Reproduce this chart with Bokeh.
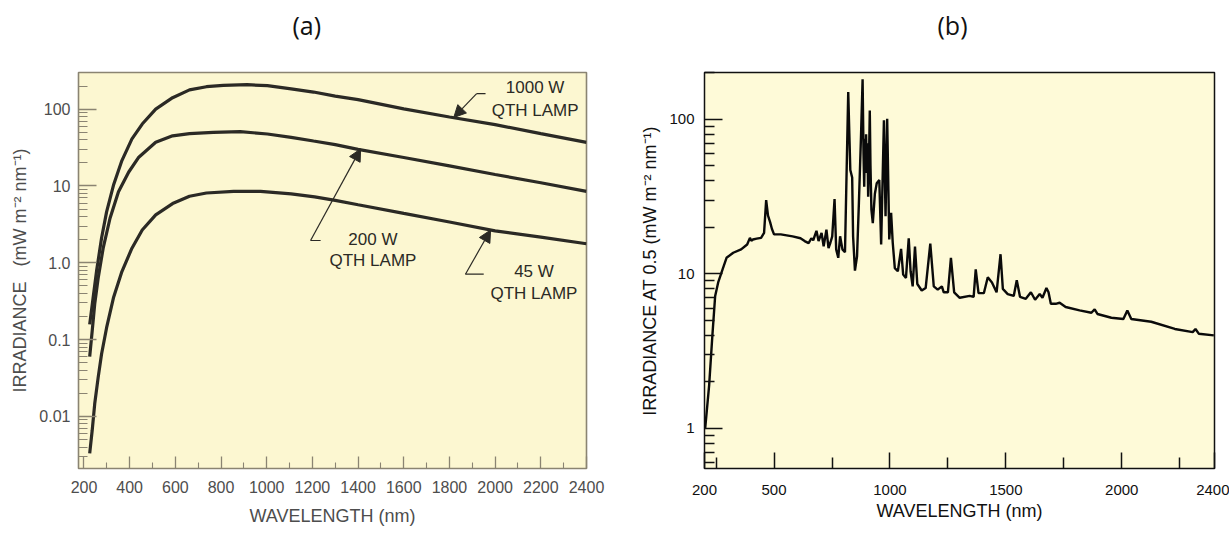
from bokeh.plotting import figure
from bokeh.layouts import row
from bokeh.models import FixedTicker, Arrow, NormalHead, Label, Range1d, Title
from bokeh.embed import file_html
from bokeh.resources import INLINE

FONT = "Liberation Sans"

# ---------------- Panel (a): QTH lamps ----------------
wl_1000 = [225, 240, 255, 277, 299, 329, 366, 410, 455, 514, 588, 662, 736, 810, 914, 1003, 1107, 1205, 1300, 1400, 1600, 1800, 2000, 2200, 2400]
irr_1000 = [0.158, 0.35, 0.78, 2.1, 4.6, 10.2, 21.4, 41, 64, 100, 141, 178, 196, 204, 208, 202, 184, 167, 148, 133, 101, 79, 63, 48, 37]
wl_200 = [225, 236, 247, 262, 284, 314, 351, 396, 440, 514, 588, 662, 766, 884, 1003, 1107, 1205, 1300, 1400, 1600, 1800, 2000, 2200, 2400]
irr_200 = [0.06, 0.13, 0.29, 0.63, 1.55, 3.8, 8.4, 15.2, 23.7, 37, 45, 48, 50, 51, 47.5, 43, 38.5, 34.6, 30, 23.5, 18.3, 14.1, 11, 8.5]
wl_45 = [225, 236, 247, 262, 277, 299, 329, 366, 410, 455, 514, 588, 662, 736, 855, 973, 1107, 1210, 1300, 1400, 1600, 1800, 2000, 2200, 2400]
irr_45 = [0.0033, 0.0066, 0.0146, 0.032, 0.065, 0.143, 0.35, 0.77, 1.55, 2.67, 4.2, 5.9, 7.35, 8.1, 8.5, 8.5, 7.9, 7.2, 6.5, 5.7, 4.4, 3.4, 2.6, 2.16, 1.77]

xa_ticks = [200, 400, 600, 800, 1000, 1200, 1400, 1600, 1800, 2000, 2200, 2400]
xa_minor = [300, 500, 700, 900, 1100, 1300, 1500, 1700, 1900, 2100, 2300]
ya_ticks = [0.01, 0.1, 1, 10, 100]
ya_tick_labels = ["0.01", "0.1", "1.0", "10", "100"]
ya_decades = [0.001, 0.01, 0.1, 1, 10, 100]
minor_mult = [2, 3, 4, 5, 6, 7, 8, 9]

lamp_text = ["1000 W", "QTH LAMP", "200 W", "QTH LAMP", "45 W", "QTH LAMP"]
lamp_text_x = [2175, 2175, 1465, 1465, 2170, 2170]
lamp_text_y = [190, 95, 2.0, 1.08, 0.76, 0.40]
arrow_tail_x = [1919, 1192, 1870]
arrow_tail_y = [159, 1.95, 0.71]
arrow_tip_x = [1819, 1411, 1980]
arrow_tip_y = [78, 30.4, 2.67]
stub_end_x = [1958, 1236, 1950]

# ---------------- Panel (b): Xe arc lamp spectrum ----------------
wl_b = [203, 220, 234, 246, 259, 278, 295, 324, 358, 384, 396, 402, 409, 425, 444, 457, 466, 474, 483, 491, 500, 529,
        580, 614, 632, 649, 661, 669, 683, 692, 705, 714, 726, 735, 743, 751, 761, 768, 777, 785, 795, 806,
        820, 829, 837, 841, 849, 858, 866, 875, 882, 886, 889, 892, 895, 897, 900, 903, 906, 910, 913, 916, 920, 926, 935, 943, 954, 962, 974,
        981, 988, 997, 1005, 1012, 1021, 1034, 1048, 1057, 1069, 1081, 1089, 1098, 1108, 1118, 1137, 1154, 1174, 1189, 1206,
        1224, 1232, 1250, 1263, 1277, 1301, 1344, 1361, 1370, 1382, 1405, 1422, 1440, 1460, 1477, 1487, 1508, 1534, 1547, 1561,
        1586, 1608, 1626, 1646, 1658, 1675, 1684, 1694, 1715, 1732, 1758, 1818, 1869, 1883, 1895, 1955, 2007, 2024, 2041, 2127,
        2229, 2306, 2318, 2332, 2397]
irr_b = [1.0, 1.9, 4.0, 7.2, 8.8, 10.7, 12.7, 13.7, 14.4, 15.5, 17.1, 16.4, 16.7, 16.9, 17.1, 18.4, 30, 23.8, 21.6, 19.5, 18.0, 18,
         17.5, 17, 16.3, 15.8, 17, 16.5, 19, 16.3, 18.4, 15.1, 19.3, 14.7, 15.9, 17.5, 30.5, 14.4, 12.7, 17.5, 14.4, 13.8,
         150, 47, 42, 17.5, 10.5, 13, 28.7, 77, 182, 60, 36.7, 75, 45, 80, 50, 70, 31.6, 60, 114, 50, 26, 21.3, 33, 38.6, 40.5, 15.5, 98.5,
         23.6, 101, 16.7, 24.8, 15.9, 10.9, 10.4, 14.5, 9.9, 9.4, 17, 10.4, 8.3, 15, 8.6, 7.8, 8.1, 15.7, 8.3, 7.9,
         8.3, 7.6, 7.6, 12.7, 7.6, 7.0, 7.2, 7.1, 10.7, 7.5, 7.5, 9.5, 8.8, 7.6, 13.4, 8, 7.4, 7.2, 9.1, 7.1,
         6.9, 7.6, 6.8, 7.4, 7.0, 8.1, 7.6, 6.4, 6.4, 6.5, 6.1, 5.8, 5.6, 5.9, 5.5, 5.2, 5.1, 5.8, 5.1, 4.9,
         4.4, 4.2, 4.4, 4.1, 4.0]

xb_ticks = [200, 500, 1000, 1500, 2000, 2400]
xb_minor = [250, 750, 1250, 1750, 2250]
yb_ticks = [1, 10, 100]
yb_tick_labels = ["1", "10", "100"]
yb_decades = [0.1, 1, 10, 100]

# ---------------- colours ----------------
A_BG = "#fcf7d1"
A_FRAME = "#8a8472"
A_CURVE = "#2b2a25"
A_TEXT = "#4d4d4d"
B_BG = "#fefad8"


def style_title(p, text, offset):
    p.title.text = text
    p.title.align = "left"
    p.title.offset = offset
    p.title.text_font = "Open Sans"
    p.title.text_font_size = "25px"
    p.title.text_font_style = "normal"
    p.title.text_color = "#111111"
    if "standoff" in p.title.properties():
        p.title.standoff = 10
    spacer = Title(text="\u00a0", text_font_size="2px")
    if "standoff" in spacer.properties():
        spacer.standoff = 22
    p.add_layout(spacer, "above")


# ================= Figure (a) =================
pa = figure(width=615, height=533, x_range=Range1d(176, 2400), y_range=Range1d(0.0021, 300),
            y_axis_type="log", output_backend="svg", toolbar_location=None,
            min_border_left=78, min_border_right=29, min_border_top=72, min_border_bottom=64)
pa.background_fill_color = A_BG
pa.border_fill_color = "white"
pa.outline_line_color = A_FRAME
pa.outline_line_width = 1.6
pa.grid.visible = False
style_title(pa, "(a)", 214)

for wl, irr in [(wl_1000, irr_1000), (wl_200, irr_200), (wl_45, irr_45)]:
    pa.line(wl, irr, line_color=A_CURVE, line_width=3.2)

ya_minor = [d * m for d in ya_decades for m in minor_mult if 0.0021 <= d * m <= 300]
pa.xaxis.ticker = FixedTicker(ticks=xa_ticks, minor_ticks=xa_minor)
pa.yaxis.ticker = FixedTicker(ticks=ya_ticks, minor_ticks=ya_minor)
pa.yaxis.major_label_overrides = dict(zip(ya_ticks, ya_tick_labels))
for ax in (pa.xaxis[0], pa.yaxis[0]):
    ax.axis_line_color = None
    ax.major_tick_line_color = A_FRAME
    ax.minor_tick_line_color = A_FRAME
    ax.major_tick_line_width = 1.3
    ax.minor_tick_line_width = 1.1
    ax.major_tick_out = 0
    ax.minor_tick_out = 0
    ax.major_label_text_font = FONT
    ax.major_label_text_font_size = "16px"
    ax.major_label_text_color = A_TEXT
    ax.axis_label_text_font = FONT
    ax.axis_label_text_font_size = "18px"
    ax.axis_label_text_font_style = "normal"
    ax.axis_label_text_color = A_TEXT
pa.xaxis.major_tick_in = 12
pa.xaxis.minor_tick_in = 6
pa.yaxis.major_tick_in = 18
pa.yaxis.minor_tick_in = 9
pa.xaxis.major_label_standoff = 12
pa.yaxis.major_label_standoff = 8
pa.xaxis.axis_label = "WAVELENGTH (nm)"
pa.yaxis.axis_label = "IRRADIANCE\u00a0\u00a0\u00a0(mW m\u207b\u00b2 nm\u207b\u00b9)"
pa.xaxis.axis_label_standoff = 10
pa.yaxis.axis_label_standoff = 6

for t, x, y in zip(lamp_text, lamp_text_x, lamp_text_y):
    pa.add_layout(Label(x=x, y=y, text=t, text_align="center", text_baseline="middle",
                        text_font=FONT, text_font_size="17px", text_color=A_CURVE))
for tx, ty, hx, hy, sx in zip(arrow_tail_x, arrow_tail_y, arrow_tip_x, arrow_tip_y, stub_end_x):
    pa.line([sx, tx], [ty, ty], line_color=A_CURVE, line_width=1.2)
    pa.add_layout(Arrow(end=NormalHead(size=12, fill_color=A_CURVE, line_color=A_CURVE, line_width=1),
                        x_start=tx, y_start=ty, x_end=hx, y_end=hy,
                        line_color=A_CURVE, line_width=1.2))

# ================= Figure (b) =================
pb = figure(width=614, height=533, x_range=Range1d(200, 2400), y_range=Range1d(0.55, 201),
            y_axis_type="log", output_backend="svg", toolbar_location=None,
            min_border_left=89, min_border_right=15, min_border_top=70, min_border_bottom=65)
pb.background_fill_color = B_BG
pb.border_fill_color = "white"
pb.outline_line_color = "#111111"
pb.outline_line_width = 1.5
pb.grid.visible = False
style_title(pb, "(b)", 233)

pb.line(wl_b, irr_b, line_color="#0a0a0a", line_width=2.4)

yb_minor = [d * m for d in yb_decades for m in minor_mult if 0.55 <= d * m <= 201]
pb.xaxis.ticker = FixedTicker(ticks=xb_ticks, minor_ticks=xb_minor)
pb.yaxis.ticker = FixedTicker(ticks=yb_ticks, minor_ticks=yb_minor)
pb.yaxis.major_label_overrides = dict(zip(yb_ticks, yb_tick_labels))
for ax in (pb.xaxis[0], pb.yaxis[0]):
    ax.axis_line_color = None
    ax.major_tick_line_color = "#111111"
    ax.minor_tick_line_color = "#111111"
    ax.major_tick_line_width = 1.5
    ax.minor_tick_line_width = 1.5
    ax.major_tick_out = 0
    ax.minor_tick_out = 0
    ax.major_label_text_font = FONT
    ax.major_label_text_font_size = "15px"
    ax.major_label_text_color = "#111111"
    ax.axis_label_text_font = FONT
    ax.axis_label_text_font_size = "18px"
    ax.axis_label_text_font_style = "normal"
    ax.axis_label_text_color = "#111111"
pb.xaxis.major_tick_in = 16
pb.xaxis.minor_tick_in = 11
pb.yaxis.major_tick_in = 18
pb.yaxis.minor_tick_in = 10
pb.xaxis.major_label_standoff = 16
pb.yaxis.major_label_standoff = 10
pb.xaxis.axis_label = "WAVELENGTH (nm)"
pb.yaxis.axis_label = "IRRADIANCE AT 0.5 (mW m\u207b\u00b2 nm\u207b\u00b9)"
pb.xaxis.axis_label_standoff = 3
pb.yaxis.axis_label_standoff = 6

layout = row(pa, pb)
open("out.html", "w").write(file_html(layout, INLINE))
